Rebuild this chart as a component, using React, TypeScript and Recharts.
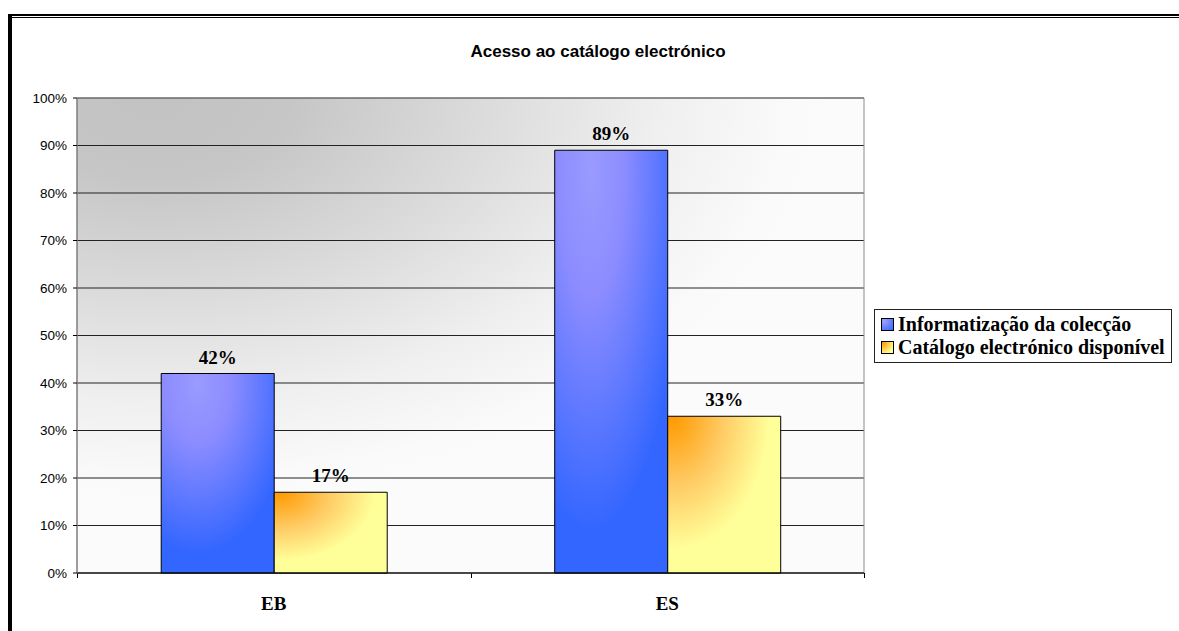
import React from "react"
import {
  BarChart,
  Bar,
  XAxis,
  YAxis,
  CartesianGrid,
  ReferenceArea,
  LabelList,
  Legend,
  usePlotArea,
} from "recharts"

const categories = ["EB", "ES"]
const informatizacao = [42, 89]
const catalogo = [17, 33]
const yTicks = [0, 10, 20, 30, 40, 50, 60, 70, 80, 90, 100]

const seriesNames = {
  info: "Informatização da colecção",
  cat: "Catálogo electrónico disponível",
}

const data = categories.map((c, i) => ({
  name: c,
  info: informatizacao[i],
  cat: catalogo[i],
}))

const serif = '"Liberation Serif", "Times New Roman", serif'
const sans = '"Liberation Sans", Arial, sans-serif'

// tick marks on the category boundaries, as the old office charts draw them
function BoundaryTicks() {
  const plot = usePlotArea()
  if (!plot) return null
  const n = categories.length
  const y = plot.y + plot.height
  return (
    <g>
      {Array.from({ length: n + 1 }, (_, i) => {
        const x = Math.round(plot.x + (plot.width * i) / n) + 0.5
        return <line key={i} x1={x} x2={x} y1={y} y2={y + 5} stroke="#000" strokeWidth={1} />
      })}
    </g>
  )
}

function LegendBox() {
  const items = [
    { label: seriesNames.info, bg: "radial-gradient(circle at 20% 20%, #a0a0ff, #3366ff)" },
    { label: seriesNames.cat, bg: "radial-gradient(circle at 10% 10%, #ff9900, #ffff99 80%)" },
  ]
  return (
    <div
      style={{
        border: "1px solid #222",
        background: "#fff",
        width: 296,
        height: 52,
        boxSizing: "content-box",
        padding: 0,
        fontFamily: serif,
        fontWeight: "bold",
        fontSize: 20,
        color: "#000",
      }}
    >
      {items.map((it, i) => (
        <div key={i} style={{ display: "flex", alignItems: "center", height: 23, marginTop: i === 0 ? 3 : 0, paddingLeft: 6 }}>
          <span
            style={{
              display: "inline-block",
              width: 11,
              height: 11,
              border: "1px solid #000",
              background: it.bg,
              marginRight: 4,
            }}
          />
          <span style={{ whiteSpace: "nowrap" }}>{it.label}</span>
        </div>
      ))}
    </div>
  )
}

export default function App() {
  return (
    <div style={{ position: "absolute", left: 0, top: 0, width: 1179, height: 631, background: "#fff", overflow: "hidden" }}>
      {/* outer frame */}
      <div style={{ position: "absolute", left: 8, top: 14, width: 1171, height: 2, background: "#000" }} />
      <div style={{ position: "absolute", left: 11, top: 17, width: 1168, height: 1, background: "#000" }} />
      <div style={{ position: "absolute", left: 8, top: 14, width: 4, height: 617, background: "#000" }} />

      <div
        style={{
          position: "absolute",
          left: 598,
          top: 42,
          transform: "translateX(-50%)",
          fontFamily: sans,
          fontWeight: "bold",
          fontSize: 17,
          whiteSpace: "nowrap",
          color: "#000",
        }}
      >
        Acesso ao catálogo electrónico
      </div>

      <div style={{ position: "absolute", left: 0, top: 0 }}>
        <BarChart
          width={1179}
          height={631}
          data={data}
          margin={{ top: 98, right: 315, bottom: 18, left: 0 }}
          barCategoryGap="21.4%"
          barGap={0}
        >
          <defs>
            <radialGradient id="plotBg" cx="0.1" cy="0" r="0.85" gradientUnits="objectBoundingBox">
              <stop offset="0" stopColor="#c2c2c2" />
              <stop offset="0.2" stopColor="#c6c6c6" />
              <stop offset="0.5" stopColor="#dcdcdc" />
              <stop offset="0.75" stopColor="#efefef" />
              <stop offset="0.95" stopColor="#fafafa" />
              <stop offset="1" stopColor="#fbfbfb" />
            </radialGradient>
            <radialGradient id="blueFill" cx="0.32" cy="0.05" r="0.85">
              <stop offset="0" stopColor="#9a9aff" />
              <stop offset="0.35" stopColor="#8c8cff" />
              <stop offset="1" stopColor="#3366ff" />
            </radialGradient>
            <radialGradient id="yellowFill" cx="0.05" cy="0" r="1">
              <stop offset="0" stopColor="#ff9900" />
              <stop offset="0.45" stopColor="#ffcc66" />
              <stop offset="0.85" stopColor="#ffff99" />
            </radialGradient>
          </defs>
          <CartesianGrid vertical={false} stroke="#222" fill="url(#plotBg)" fillOpacity={1} />
          <ReferenceArea y1={0} y2={100} fill="none" stroke="#8c8c8c" strokeWidth={1} ifOverflow="visible" />
          <XAxis
            dataKey="name"
            height={40}
            axisLine={{ stroke: "#000" }}
            tickLine={false}
            tickMargin={18}
            tick={{ fontFamily: serif, fontWeight: "bold", fontSize: 19, fill: "#000" }}
          />
          <YAxis
            width={77}
            domain={[0, 100]}
            ticks={yTicks}
            interval={0}
            tickFormatter={(v) => `${v}%`}
            axisLine={{ stroke: "#777" }}
            tickLine={{ stroke: "#000" }}
            tickSize={4}
            tickMargin={6}
            tick={{ fontFamily: sans, fontSize: 13.5, fill: "#000" }}
          />
          <Bar dataKey="info" name={seriesNames.info} fill="url(#blueFill)" stroke="#000" strokeWidth={1} isAnimationActive={false}>
            <LabelList
              dataKey="info"
              position="top"
              offset={10}
              formatter={(v) => `${v}%`}
              style={{ fontFamily: serif, fontWeight: "bold", fontSize: 19, fill: "#000" }}
            />
          </Bar>
          <Bar dataKey="cat" name={seriesNames.cat} fill="url(#yellowFill)" stroke="#000" strokeWidth={1} isAnimationActive={false}>
            <LabelList
              dataKey="cat"
              position="top"
              offset={10}
              formatter={(v) => `${v}%`}
              style={{ fontFamily: serif, fontWeight: "bold", fontSize: 19, fill: "#000" }}
            />
          </Bar>
          <BoundaryTicks />
          <Legend
            layout="vertical"
            align="center"
            verticalAlign="middle"
            wrapperStyle={{ position: "absolute", left: 874, top: 309, width: "auto" }}
            content={() => <LegendBox />}
          />
        </BarChart>
      </div>
    </div>
  )
}
